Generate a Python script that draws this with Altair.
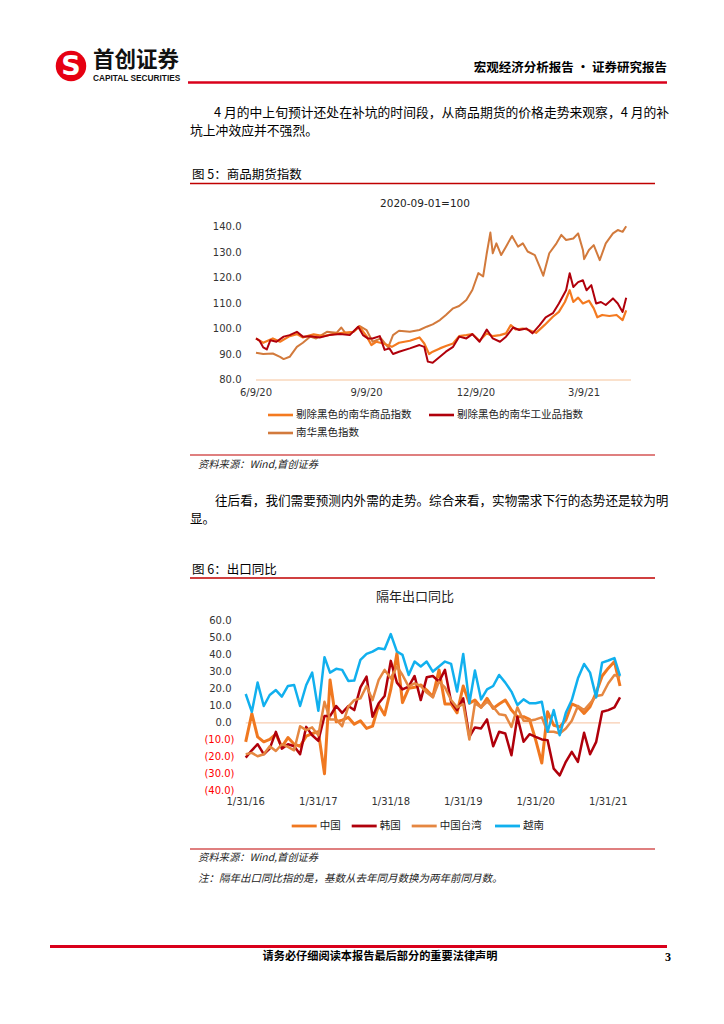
import altair as alt
import pandas as pd

CJK = "Noto Sans CJK SC"
LAT = "DejaVu Sans"
OFF = 8  # page margin: page coordinate -> canvas coordinate

# ---------------- Figure 5 data (daily index, 2020-09-01 = 100) ----------------
c1_names = ["剔除黑色的南华商品指数", "剔除黑色的南华工业品指数", "南华黑色指数"]
c1_colors = ["#F47A20", "#B0000B", "#D27A3C"]

comm_dates = ["2020-06-09", "2020-06-15", "2020-06-23", "2020-06-29", "2020-07-07", "2020-07-13",
              "2020-07-18", "2020-07-27", "2020-08-04", "2020-08-12", "2020-08-20", "2020-08-29",
              "2020-09-03", "2020-09-09", "2020-09-13", "2020-09-17", "2020-09-23", "2020-09-30",
              "2020-10-06", "2020-10-15", "2020-10-23", "2020-10-27", "2020-10-31", "2020-11-03",
              "2020-11-09", "2020-11-14", "2020-11-20", "2020-11-25", "2020-12-01", "2020-12-06",
              "2020-12-12", "2020-12-18", "2020-12-23", "2020-12-29", "2021-01-03", "2021-01-07",
              "2021-01-11", "2021-01-17", "2021-01-22", "2021-01-28", "2021-02-04", "2021-02-11",
              "2021-02-16", "2021-02-21", "2021-02-25", "2021-02-28", "2021-03-04", "2021-03-08",
              "2021-03-13", "2021-03-17", "2021-03-20", "2021-03-24", "2021-03-30", "2021-04-05",
              "2021-04-10", "2021-04-13"]
comm_vals = [96.3, 94.6, 96.3, 95.0, 97.2, 98.0, 96.7, 97.9, 97.2, 98.0, 98.5, 98.9,
             100.9, 97.2, 93.7, 95.0, 94.3, 93.0, 94.6, 95.4, 96.7, 94.3, 90.2, 91.1,
             92.4, 93.3, 94.3, 97.2, 97.6, 98.0, 95.4, 98.3, 97.2, 97.6, 98.3, 101.5,
             99.8, 100.2, 99.6, 98.5, 101.5, 104.8, 106.7, 110.6, 115.2, 110.6, 112.3, 110.0,
             111.1, 108.1, 104.6, 105.5, 105.1, 105.5, 103.5, 107.3]

ind_dates = ["2020-06-09", "2020-06-12", "2020-06-15", "2020-06-18", "2020-06-21", "2020-06-26",
             "2020-07-02", "2020-07-07", "2020-07-13", "2020-07-18", "2020-07-24", "2020-08-01",
             "2020-08-09", "2020-08-18", "2020-08-26", "2020-09-02", "2020-09-06", "2020-09-10",
             "2020-09-14", "2020-09-20", "2020-09-24", "2020-09-28", "2020-10-01", "2020-10-06",
             "2020-10-15", "2020-10-23", "2020-10-27", "2020-10-30", "2020-11-03", "2020-11-09",
             "2020-11-14", "2020-11-20", "2020-11-25", "2020-12-01", "2020-12-06", "2020-12-12",
             "2020-12-18", "2020-12-23", "2020-12-29", "2021-01-03", "2021-01-09", "2021-01-14",
             "2021-01-20", "2021-01-25", "2021-01-31", "2021-02-05", "2021-02-11", "2021-02-16",
             "2021-02-22", "2021-02-25", "2021-02-28", "2021-03-04", "2021-03-08", "2021-03-11",
             "2021-03-15", "2021-03-19", "2021-03-23", "2021-03-27", "2021-04-02", "2021-04-06",
             "2021-04-10", "2021-04-13"]
ind_vals = [96.3, 95.4, 92.8, 92.0, 95.6, 95.0, 97.0, 97.6, 98.9, 97.0, 97.2, 96.7,
            97.6, 98.0, 97.6, 100.9, 97.6, 96.3, 96.3, 97.2, 91.8, 92.4, 90.2, 91.1,
            92.4, 93.7, 93.0, 87.2, 86.8, 89.1, 91.1, 93.0, 97.0, 96.3, 98.0, 95.0,
            99.8, 96.3, 95.0, 97.0, 100.6, 99.6, 100.2, 98.3, 101.5, 104.6, 106.2, 110.0,
            115.2, 121.9, 116.5, 118.4, 119.1, 115.2, 117.2, 110.0, 110.6, 109.4, 112.0, 110.0,
            106.7, 112.3]

black_dates = ["2020-06-09", "2020-06-15", "2020-06-23", "2020-06-29", "2020-07-02", "2020-07-07",
               "2020-07-13", "2020-07-18", "2020-07-24", "2020-07-29", "2020-08-07", "2020-08-15",
               "2020-08-19", "2020-08-23", "2020-08-29", "2020-09-03", "2020-09-09", "2020-09-14",
               "2020-09-21", "2020-09-27", "2020-10-01", "2020-10-06", "2020-10-15", "2020-10-23",
               "2020-10-29", "2020-11-03", "2020-11-09", "2020-11-14", "2020-11-20", "2020-11-25",
               "2020-12-01", "2020-12-06", "2020-12-11", "2020-12-15", "2020-12-18", "2020-12-21",
               "2020-12-23", "2020-12-26", "2020-12-30", "2021-01-03", "2021-01-08", "2021-01-13",
               "2021-01-17", "2021-01-21", "2021-01-27", "2021-01-31", "2021-02-03", "2021-02-08",
               "2021-02-14", "2021-02-18", "2021-02-22", "2021-02-28", "2021-03-04", "2021-03-08",
               "2021-03-09", "2021-03-13", "2021-03-17", "2021-03-22", "2021-03-27", "2021-04-02",
               "2021-04-06", "2021-04-10", "2021-04-13"]
black_vals = [90.7, 90.2, 90.4, 89.1, 88.2, 89.1, 93.0, 94.6, 97.0, 96.3, 98.9, 98.5,
              100.6, 98.0, 98.9, 101.2, 99.6, 95.0, 96.3, 92.8, 97.6, 99.3, 98.9, 99.6,
              100.9, 101.8, 103.5, 105.5, 108.1, 109.0, 111.4, 115.3, 121.9, 120.6, 129.7, 137.8,
              129.7, 133.6, 129.0, 132.3, 136.5, 132.3, 133.6, 130.4, 129.0, 124.5, 120.9, 129.7,
              133.6, 136.9, 134.9, 135.5, 137.5, 131.0, 127.4, 131.0, 132.9, 127.0, 133.6, 137.5,
              138.8, 138.1, 140.3]

c1_xticks = ["2020-06-09", "2020-09-09", "2020-12-09", "2021-03-09"]
c1_xlabels = ["6/9/20", "9/9/20", "12/9/20", "3/9/21"]
c1_yticks = [80, 90, 100, 110, 120, 130, 140]
c1_ylabels = ["80.0", "90.0", "100.0", "110.0", "120.0", "130.0", "140.0"]

# ---------------- Figure 6 data (monthly, two-year export growth, %) ----------------
c2_names = ["中国", "韩国", "中国台湾", "越南"]
c2_colors = ["#F07820", "#B0000B", "#E58741", "#11B0EE"]
months = [f"{y}-{m:02d}" for y in range(2016, 2022) for m in range(1, 13)][:63]

china = [-11.2, 5.5, -8.3, -11.2, -9.8, -6.7, -14.2, -8.7, -12.6, -13.8, -7.9, -6.3,
         -5.3, -30.0, 25.3, 0.6, 1.6, 3.2, -0.8, 1.2, -3.3, -2.0, 10.5, 4.6,
         19.7, 41.0, 11.9, 20.3, 20.9, 22.3, 19.3, 15.4, 31.2, 11.1, 11.1, 5.9,
         21.7, 11.5, 13.4, 9.1, 14.4, 8.5, 11.1, 13.4, 7.5, 3.6, 3.6, 2.0,
         -10.0, -23.7, 6.5, -1.4, -2.4, 1.6, 11.1, 9.5, 5.5, 9.5, 17.8, 27.6,
         32.2, 36.1, 21.7]
korea = [-20.5, -16.2, -12.6, -18.5, -15.2, -5.3, -15.2, -12.6, -13.8, -18.5, -2.4, -7.3,
         -10.6, 4.0, 4.0, 9.9, 5.9, 9.9, 7.5, 20.9, 27.2, 3.6, 11.5, 15.8,
         36.5, 23.7, 19.7, 21.3, 27.6, 13.4, 26.8, 27.6, 24.3, 31.2, 12.4, 7.5,
         14.4, -8.3, -2.7, -3.3, 2.0, -13.8, -5.3, -6.3, -19.1, 3.6, -11.2, -6.7,
         -8.3, -9.8, -10.2, -27.0, -31.0, -23.0, -17.1, -23.0, -5.9, -18.5, -11.2, 6.5,
         7.5, 9.1, 15.0]
taiwan = [-18.5, -17.7, -19.7, -18.5, -13.8, -16.6, -12.6, -14.2, -16.2, -2.0, -4.3, -2.7,
          -7.3, 12.4, 2.0, 2.0, -2.0, 9.5, 13.4, 14.4, 21.7, 13.4, 25.3, 31.2,
          26.2, 33.2, 28.2, 21.3, 23.3, 21.7, 17.8, 15.0, 24.3, 20.9, 13.4, 9.1,
          11.1, -9.8, 11.5, 9.1, 12.4, 9.5, 5.1, 4.5, -2.4, 9.1, 1.2, 1.2,
          2.0, 3.2, -5.3, -5.3, -6.3, -3.3, 1.2, 9.9, 7.5, 11.5, 15.8, 16.4,
          23.3, 28.2, 26.8]
vietnam = [17.0, 6.5, 23.7, 9.9, 16.4, 19.3, 15.4, 21.7, 22.3, 9.9, 22.3, 29.6,
           7.1, 38.7, 29.6, 31.8, 31.2, 24.7, 24.9, 37.1, 40.6, 42.0, 44.0, 43.4,
           52.3, 42.0, 40.0, 28.2, 36.1, 33.2, 36.1, 30.2, 33.2, 36.1, 34.7, 18.4,
           40.6, 11.5, 30.8, 13.8, 19.7, 21.7, 28.2, 23.7, 18.4, 10.5, 13.8, 11.5,
           11.5, 12.4, -5.3, 7.5, -7.3, 5.9, 13.4, 26.2, 34.7, 29.6, 15.0, 35.5,
           36.7, 38.1, 27.6]

c2_xticks = ["2016-01", "2017-01", "2018-01", "2019-01", "2020-01", "2021-01"]
c2_xlabels = ["1/31/16", "1/31/17", "1/31/18", "1/31/19", "1/31/20", "1/31/21"]
c2_pos_ticks = [0, 10, 20, 30, 40, 50, 60]
c2_pos_labels = ["0.0", "10.0", "20.0", "30.0", "40.0", "50.0", "60.0"]
c2_neg_ticks = [-10, -20, -30, -40]
c2_neg_labels = ["(10.0)", "(20.0)", "(30.0)", "(40.0)"]

# ---------------- page texts ----------------
header_right = "宏观经济分析报告 · 证券研究报告"
para1 = ["4 月的中上旬预计还处在补坑的时间段，从商品期货的价格走势来观察，4 月的补", "坑上冲效应并不强烈。"]
fig5_title = "图 5：商品期货指数"
c1_title = "2020-09-01=100"
source = "资料来源：Wind,首创证券"
para2 = ["往后看，我们需要预测内外需的走势。综合来看，实物需求下行的态势还是较为明", "显。"]
fig6_title = "图 6：出口同比"
c2_title = "隔年出口同比"
note = "注：隔年出口同比指的是，基数从去年同月数换为两年前同月数。"
footer = "请务必仔细阅读本报告最后部分的重要法律声明"
page_no = "3"

RED = "#D9001B"
FIGRED = "#C00000"


def T(txt, x, y, size=12.8, align="left", weight="normal", color="#000000", font=CJK, style="normal"):
    return alt.Chart(pd.DataFrame({"t": [txt]})).mark_text(
        align=align, baseline="middle", fontSize=size, fontWeight=weight,
        color=color, font=font, fontStyle=style
    ).encode(x=alt.value(x - OFF), y=alt.value(y - OFF), text="t:N")


def R(x1, x2, y, color, width):
    return alt.Chart(pd.DataFrame({"k": [0]})).mark_rule(color=color, strokeWidth=width).encode(
        x=alt.value(x1 - OFF), x2=alt.value(x2 - OFF), y=alt.value(y - OFF))


layers = []

# logo
layers.append(alt.Chart(pd.DataFrame({"k": [0]})).mark_point(
    shape="circle", filled=True, size=930, color="#E60012", opacity=1
).encode(x=alt.value(71 - OFF), y=alt.value(66 - OFF)))
layers.append(T("S", 71, 67, size=27, align="center", weight="bold", color="#FFFFFF", font=LAT))
layers.append(T("首创证券", 93, 60.5, size=21.5, weight="bold", color="#111111"))
layers.append(T("CAPITAL SECURITIES", 93, 78.5, size=8.3, weight="bold", color="#111111", font="Liberation Sans"))
layers.append(T(header_right, 667, 68, size=12.5, align="right", weight="bold"))
layers.append(R(188, 667, 82.5, RED, 2.5))

# paragraph 1
layers.append(T(para1[0], 214, 113))
layers.append(T(para1[1], 190, 131))

# figure 5 header
layers.append(T(fig5_title, 192, 175, size=12.5))
layers.append(R(190, 655, 183.5, FIGRED, 1.5))
layers.append(T(c1_title, 425, 203.5, size=10.5, align="center", color="#222222", font=LAT))

# ---- chart 1
sx1 = alt.Scale(domain=[alt.DateTime(year=2020, month=6, date=9, utc=True),
                        alt.DateTime(year=2021, month=4, date=17, utc=True)],
                range=[256 - OFF, 631 - OFF], nice=False)
sy1 = alt.Scale(domain=[80, 140], range=[380 - OFF, 227 - OFF], nice=False, zero=False)

layers.append(alt.Chart(pd.DataFrame({"d": [c1_xticks[0]], "d2": ["2021-04-17"], "v": [80]})).mark_rule(
    color="#F6C39A", strokeWidth=1).encode(
    x=alt.X("d:T", scale=sx1, axis=None), x2="d2:T", y=alt.Y("v:Q", scale=sy1, axis=None)))


def line1(dates, vals, color, width=2.0):
    df = pd.DataFrame({"date": dates, "value": vals})
    return alt.Chart(df).mark_line(color=color, strokeWidth=width, strokeJoin="round").encode(
        x=alt.X("date:T", scale=sx1, axis=None), y=alt.Y("value:Q", scale=sy1, axis=None))


layers.append(line1(black_dates, black_vals, c1_colors[2]))
layers.append(line1(comm_dates, comm_vals, c1_colors[0], 2.2))
layers.append(line1(ind_dates, ind_vals, c1_colors[1]))

layers.append(alt.Chart(pd.DataFrame({"d": c1_xticks, "l": c1_xlabels})).mark_text(
    fontSize=10, font=LAT, color="#333333", baseline="middle").encode(
    x=alt.X("d:T", scale=sx1, axis=None), y=alt.value(392.5 - OFF), text="l:N"))
layers.append(alt.Chart(pd.DataFrame({"v": c1_yticks, "l": c1_ylabels})).mark_text(
    fontSize=10, font=LAT, color="#333333", baseline="middle", align="right").encode(
    x=alt.value(241.5 - OFF), y=alt.Y("v:Q", scale=sy1, axis=None), text="l:N"))

# chart 1 legend
for (lx, ly, name, col) in [(268, 415, c1_names[0], c1_colors[0]),
                            (429, 415, c1_names[1], c1_colors[1]),
                            (268, 433, c1_names[2], c1_colors[2])]:
    layers.append(R(lx, lx + 25, ly, col, 2.6))
    layers.append(T(name, lx + 28, ly, size=10.5, color="#222222"))

layers.append(R(190, 655, 455, FIGRED, 1.2))
layers.append(T(source, 198, 464.5, size=10.3, style="italic", color="#222222"))

# paragraph 2
layers.append(T(para2[0], 215, 501, size=12.6))
layers.append(T(para2[1], 190, 519, size=12.6))

# figure 6 header
layers.append(T(fig6_title, 192, 570, size=12.5))
layers.append(R(190, 655, 578, FIGRED, 1.5))
layers.append(T(c2_title, 415, 597, size=13, align="center", color="#222222"))

# ---- chart 2
sx2 = alt.Scale(domain=[alt.DateTime(year=2016, month=1, date=1, utc=True),
                        alt.DateTime(year=2021, month=1, date=1, utc=True)],
                range=[245.7 - OFF, 608.3 - OFF], nice=False)
sy2 = alt.Scale(domain=[-40, 60], range=[790.7 - OFF, 621 - OFF], nice=False, zero=False)

layers.append(alt.Chart(pd.DataFrame({"d": [months[0]], "d2": [months[-1]], "v": [0]})).mark_rule(
    color="#F8CDB0", strokeWidth=1.2).encode(
    x=alt.X("d:T", scale=sx2, axis=None), x2="d2:T", y=alt.Y("v:Q", scale=sy2, axis=None)))


def line2(vals, color, width=2.5):
    df = pd.DataFrame({"date": months, "value": vals})
    return alt.Chart(df).mark_line(color=color, strokeWidth=width, strokeJoin="round").encode(
        x=alt.X("date:T", scale=sx2, axis=None), y=alt.Y("value:Q", scale=sy2, axis=None))


layers.append(line2(china, c2_colors[0], 3.0))
layers.append(line2(korea, c2_colors[1], 2.5))
layers.append(line2(taiwan, c2_colors[2], 2.5))
layers.append(line2(vietnam, c2_colors[3], 2.5))

layers.append(alt.Chart(pd.DataFrame({"d": c2_xticks, "l": c2_xlabels})).mark_text(
    fontSize=10, font=LAT, color="#333333", baseline="middle").encode(
    x=alt.X("d:T", scale=sx2, axis=None), y=alt.value(802 - OFF), text="l:N"))
layers.append(alt.Chart(pd.DataFrame({"v": c2_pos_ticks, "l": c2_pos_labels})).mark_text(
    fontSize=10, font=LAT, color="#333333", baseline="middle", align="right").encode(
    x=alt.value(231.5 - OFF), y=alt.Y("v:Q", scale=sy2, axis=None), text="l:N"))
layers.append(alt.Chart(pd.DataFrame({"v": c2_neg_ticks, "l": c2_neg_labels})).mark_text(
    fontSize=10, font=LAT, color="#FF0000", baseline="middle", align="right").encode(
    x=alt.value(234.5 - OFF), y=alt.Y("v:Q", scale=sy2, axis=None), text="l:N"))

# chart 2 legend
for (lx, name, col) in [(291.7, c2_names[0], c2_colors[0]), (351.7, c2_names[1], c2_colors[1]),
                        (411.7, c2_names[2], c2_colors[2]), (495, c2_names[3], c2_colors[3])]:
    layers.append(R(lx, lx + 25, 826, col, 2.8))
    layers.append(T(name, lx + 28, 826, size=10.5, color="#222222"))

layers.append(R(190, 655, 849, FIGRED, 1.2))
layers.append(T(source, 198, 857.5, size=10.3, style="italic", color="#222222"))
layers.append(T(note, 198, 879, size=10.5, style="italic", color="#222222"))

# footer
layers.append(R(50, 667, 946.5, RED, 3))
layers.append(T(footer, 380, 957, size=11.2, align="center", weight="bold"))
layers.append(T(page_no, 671, 957, size=12, align="right", weight="bold", font="Liberation Serif"))

chart = alt.layer(*layers).resolve_scale(x="independent", y="independent").properties(
    width=700, height=1000, padding=0, background="white",
    autosize=alt.AutoSizeParams(type="none")
).configure_view(stroke=None)

chart.save("out.html", embed_options={"renderer": "svg", "actions": False})
